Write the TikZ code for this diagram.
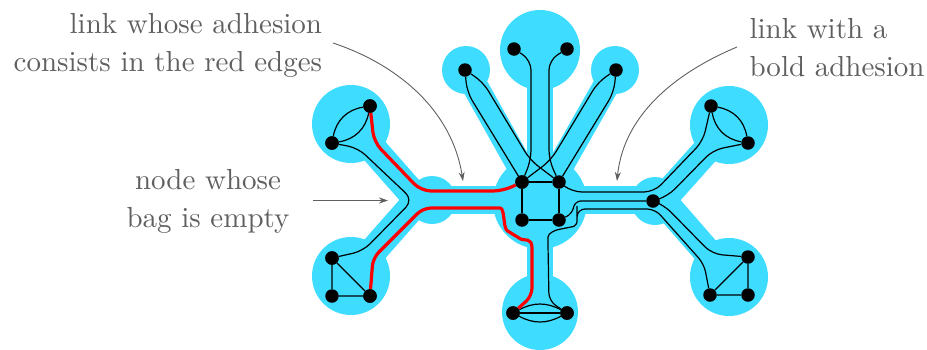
\documentclass[tikz,border=0pt]{standalone}
\usetikzlibrary{arrows.meta}
\definecolor{bagcyan}{RGB}{62,221,255}
\definecolor{notegray}{RGB}{95,95,95}
\definecolor{adhred}{RGB}{255,0,0}
\tikzset{
  bagfill/.style={fill=bagcyan},
  band/.style={draw=bagcyan,line width=28pt,line cap=round,line join=round},
  vband/.style={draw=bagcyan,line width=26pt,line cap=round,line join=round},
  vtx/.style={circle,fill=black,inner sep=0pt,minimum size=13.5pt},
  edge/.style={black,line width=1.2pt},
  redge/.style={adhred,line width=3.2pt,rounded corners=10pt},
  pathedge/.style={black,line width=1.2pt,rounded corners=10pt},
  note/.style={text=notegray,inner sep=0pt,scale=2.9,font=\fontsize{10}{13.25}\selectfont},
  notearrow/.style={notegray,line width=0.9pt,-{Stealth[length=9pt,width=6pt]}}
}
\begin{document}
\begin{tikzpicture}[x=1pt,y=-1pt]
\useasboundingbox (0,0) rectangle (927,349);
% ---------- background (bags and links) ----------
\fill[bagfill] (351,124) circle (39);
\fill[bagfill] (351,276) circle (39);
\fill[bagfill] (432,200) circle (24);
\fill[bagfill] (540,202) circle (47);
\fill[bagfill] (540,50) circle (40);
\fill[bagfill] (466,70) circle (24);
\fill[bagfill] (615,70) circle (24);
\fill[bagfill] (540,312) circle (38);
\fill[bagfill] (655,201) circle (24);
\fill[bagfill] (729,125) circle (39);
\fill[bagfill] (729,277) circle (39);
\draw[band] (351,124) -- (418,200) -- (351,276);
\draw[band] (418,200) -- (662,200);
\draw[band] (729,125) -- (662,200) -- (729,277);
\draw[vband] (540,50) -- (540,312);
\draw[vband] (466,70) -- (540,202);
\draw[vband] (615,70) -- (540,202);
% ---------- vertices ----------
\node[vtx] (A1) at (370,106) {};
\node[vtx] (A2) at (332,143) {};
\node[vtx] (B1) at (332,258) {};
\node[vtx] (B2) at (332,296) {};
\node[vtx] (B3) at (370,296) {};
\node[vtx] (TL) at (465,70) {};
\node[vtx] (T1) at (514,49) {};
\node[vtx] (T2) at (567,49) {};
\node[vtx] (TR) at (616,70) {};
\node[vtx] (C1) at (522,182) {};
\node[vtx] (C2) at (559,182) {};
\node[vtx] (C3) at (522,220) {};
\node[vtx] (C4) at (559,220) {};
\node[vtx] (BC1) at (513,313) {};
\node[vtx] (BC2) at (567,313) {};
\node[vtx] (R) at (653,201) {};
\node[vtx] (RT1) at (711,106) {};
\node[vtx] (RT2) at (748,143) {};
\node[vtx] (RB1) at (748,257) {};
\node[vtx] (RB2) at (710,295) {};
\node[vtx] (RB3) at (748,295) {};
% ---------- edges inside bags ----------
\draw[edge] (A1) to[bend left=35] (A2);
\draw[edge] (A1) to[bend right=35] (A2);
\draw[edge] (B1) -- (B2) -- (B3) -- (B1);
\draw[edge] (C1) -- (C2) -- (C4) -- (C3) -- (C1);
\draw[edge] (BC1) to[bend left=28] (BC2);
\draw[edge] (BC1) to[bend right=28] (BC2);
\draw[edge] (BC1) -- (BC2);
\draw[edge] (RT1) to[bend left=35] (RT2);
\draw[edge] (RT1) to[bend right=35] (RT2);
\draw[edge] (RB2) -- (RB3) -- (RB1) -- (RB2);
% ---------- edges along links ----------
\draw[pathedge] (A2) -- (358,148) -- (413,200) -- (363,251) -- (B1);
\draw[pathedge] (TL) -- (467,92) -- (C1);
\draw[pathedge] (TL) -- (483,82) -- (530,160) -- (C2);
\draw[pathedge] (TR) -- (614,92) -- (C2);
\draw[pathedge] (TR) -- (598,82) -- (551,160) -- (C1);
\draw[pathedge] (T1) -- (531,60) -- (531,160) -- (C1);
\draw[pathedge] (T2) -- (549,60) -- (549,160) -- (C2);
\draw[pathedge] (C2) -- (572,192) -- (654,192) -- (703,141) -- (RT1);
\draw[pathedge] (R) -- (668,196) -- (713,150) -- (RT2);
\draw[pathedge] (R) -- (664,205) -- (712,254) -- (RB1);
\draw[pathedge,rounded corners=6pt] (C4) -- (572,214) -- (575,201) -- (R);
\draw[pathedge,rounded corners=8pt] (BC2) -- (549,301) -- (548,245)
  .. controls (548,233) and (556,230) .. (566,228)
  .. controls (576,226) and (577,222) .. (577,214)
  -- (577,209) -- (655,209) -- (704,264) -- (RB2);
% ---------- red adhesion ----------
\draw[redge] (A1) -- (374,142) -- (421,191) -- (503,191) -- (C1);
\draw[redge,rounded corners=8pt] (B3) -- (373,258) -- (423,208) -- (492,208)
  .. controls (505,208) and (503,228) .. (514,235)
  .. controls (524,241) and (532,237) .. (532,256)
  -- (532,296) -- (BC1);
% redraw vertices on top
\foreach \v in {A1,A2,B1,B3,C1,BC1,BC2}{\fill (\v) circle (6.75);}
% ---------- notes ----------
\node[note,align=right,anchor=north east] (n1) at (322.7,12.5) {link whose adhesion\\consists in the red edges};
\node[note,align=center,anchor=north] (n2) at (208,168.5) {node whose\\bag is empty};
\node[note,align=left,anchor=north west] (n3) at (749,17.5) {link with a\\bold adhesion};
\coordinate (e1) at (463,181);
\coordinate (e2) at (617,181);
\coordinate (e3) at (388,200.5);
\coordinate (s1) at (333,43);
\coordinate (s2) at (737,47);
\coordinate (s3) at (313,200.5);
\draw[notearrow] (s1) .. controls (399,65) and (452,111) .. (e1);
\draw[notearrow] (s2) .. controls (682,70) and (624,111) .. (e2);
\draw[notearrow] (s3) -- (e3);
\end{tikzpicture}
\end{document}
